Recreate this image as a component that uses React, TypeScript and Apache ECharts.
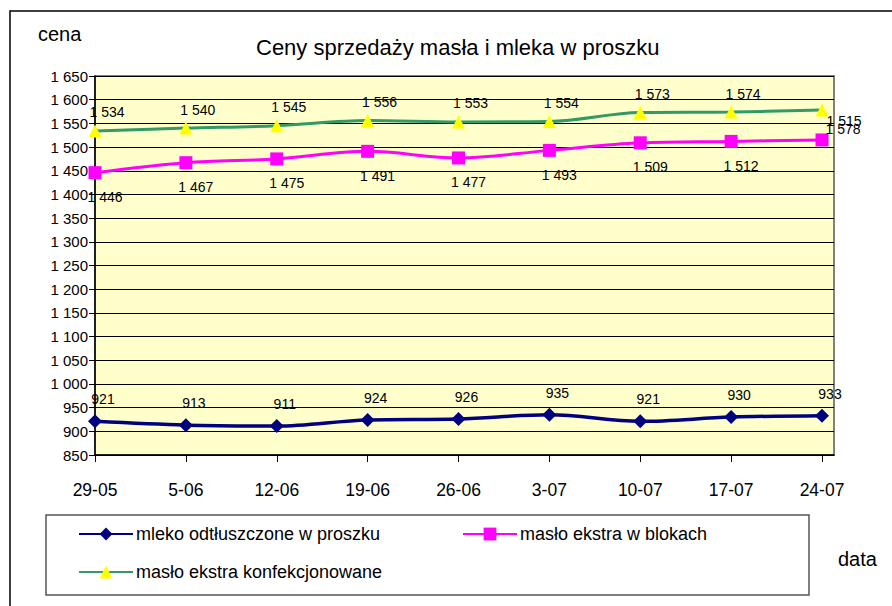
import React, { useEffect, useRef } from 'react';
import * as echarts from 'echarts';

const categories = ['29-05', '5-06', '12-06', '19-06', '26-06', '3-07', '10-07', '17-07', '24-07'];
const mleko = [921, 913, 911, 924, 926, 935, 921, 930, 933];
const masloBloki = [1446, 1467, 1475, 1491, 1477, 1493, 1509, 1512, 1515];
const masloKonf = [1534, 1540, 1545, 1556, 1553, 1554, 1573, 1574, 1578];
const seriesNames = ['mleko odtłuszczone w proszku', 'masło ekstra w blokach', 'masło ekstra konfekcjonowane'];
const yMin = 850;
const yMax = 1650;
const yStep = 50;

const FONT = '"Liberation Sans", Arial, sans-serif';

function fmt(v: number): string {
  const n = Math.round(v);
  if (n >= 1000) return Math.floor(n / 1000) + ' ' + String(n % 1000).padStart(3, '0');
  return String(n);
}

export default function App() {
  const ref = useRef<HTMLDivElement>(null);
  useEffect(() => {
    const chart = echarts.init(ref.current!, null, { renderer: 'svg' });
    const last = categories.length - 1;
    const toData = (vals: number[], lastLabel?: any) =>
      vals.map((v, i) => {
        const item: any = { value: [i, v] };
        if (i === last && lastLabel) item.label = lastLabel;
        return item;
      });
    const labelBase = { show: true, color: '#000', fontFamily: FONT, fontSize: 14, formatter: (p: any) => fmt(p.value[1]) };
    const xIdx = categories.map((_, i) => i);
    const legendText = { fontFamily: FONT, fontSize: 18, color: '#000', padding: [0, 0, 0, -2] };
    chart.setOption({
      animation: false,
      backgroundColor: '#fff',
      textStyle: { fontFamily: FONT },
      title: {
        text: 'Ceny sprzedaży masła i mleka w proszku',
        left: 256,
        top: 36,
        padding: 0,
        textStyle: { fontFamily: FONT, fontSize: 22, fontWeight: 'normal', color: '#000' },
      },
      grid: {
        left: 95,
        right: 58,
        top: 76,
        bottom: 151,
        show: true,
        backgroundColor: '#FFFFCC',
        borderColor: '#808080',
        borderWidth: 2,
        containLabel: false,
        outerBoundsMode: 'none',
      },
      legend: [
        {
          orient: 'vertical',
          left: 78,
          top: 525,
          padding: 0,
          itemWidth: 54,
          itemHeight: 16,
          itemGap: 20,
          data: [seriesNames[0], seriesNames[2]],
          textStyle: legendText,
        },
        {
          orient: 'vertical',
          left: 462,
          top: 525,
          padding: 0,
          itemWidth: 54,
          itemHeight: 16,
          data: [seriesNames[1]],
          textStyle: legendText,
        },
      ],
      xAxis: {
        type: 'value',
        min: 0,
        max: 8 * 739 / 727,
        interval: 1,
        splitLine: { show: false },
        axisLine: { show: true, lineStyle: { color: '#000', width: 1.5 } },
        axisTick: { show: true, length: 7, lineStyle: { color: '#000', width: 1 }, customValues: xIdx },
        axisLabel: {
          customValues: xIdx,
          margin: 26,
          fontFamily: FONT,
          fontSize: 17.5,
          color: '#000',
          formatter: (v: number) => (Number.isInteger(v) && categories[v] !== undefined ? categories[v] : ''),
        },
      },
      yAxis: {
        type: 'value',
        min: yMin,
        max: yMax,
        interval: yStep,
        axisLine: { show: true, lineStyle: { color: '#000', width: 1.5 } },
        axisTick: { show: true, length: 6, lineStyle: { color: '#000' } },
        splitLine: { show: true, lineStyle: { color: '#000', width: 1 } },
        axisLabel: { margin: 7, fontFamily: FONT, fontSize: 15, color: '#000', formatter: (v: number) => fmt(v) },
      },
      graphic: [
        { type: 'rect', shape: { x: 10, y: 11, width: 1000, height: 1000 }, style: { fill: 'none', stroke: '#000', lineWidth: 1.5 }, silent: true },
        { type: 'rect', shape: { x: 46, y: 515, width: 763, height: 80 }, style: { fill: 'none', stroke: '#555', lineWidth: 1.5 }, silent: true },
        { type: 'text', x: 38, y: 24, style: { text: 'cena', fontFamily: FONT, fontSize: 20, fill: '#000' } },
        { type: 'text', x: 838, y: 549, style: { text: 'data', fontFamily: FONT, fontSize: 20, fill: '#000' } },
      ],
      series: [
        {
          name: seriesNames[0],
          type: 'line',
          smooth: 0.35,
          data: toData(mleko),
          symbol: 'diamond',
          symbolSize: 14,
          itemStyle: { color: '#000080' },
          lineStyle: { color: '#000080', width: 3.5 },
          label: { ...labelBase, position: 'top', offset: [8, -3] },
        },
        {
          name: seriesNames[1],
          type: 'line',
          smooth: 0.35,
          data: toData(masloBloki, { position: 'top', offset: [22, 0] }),
          symbol: 'rect',
          symbolSize: 13,
          itemStyle: { color: '#FF00FF' },
          lineStyle: { color: '#FF00FF', width: 3 },
          label: { ...labelBase, position: 'bottom', offset: [10, 6] },
        },
        {
          name: seriesNames[2],
          type: 'line',
          smooth: 0.35,
          data: toData(masloKonf, { position: 'bottom', offset: [21, 0] }),
          symbol: 'triangle',
          symbolSize: 13,
          itemStyle: { color: '#FFFF00' },
          lineStyle: { color: '#339966', width: 3 },
          label: { ...labelBase, position: 'top', offset: [12, 0] },
        },
      ],
    });
    return () => chart.dispose();
  }, []);
  return (
    <div
      ref={ref}
      style={{ position: 'fixed', left: 0, top: 0, width: 892, height: 606, background: '#fff' }}
    />
  );
}
